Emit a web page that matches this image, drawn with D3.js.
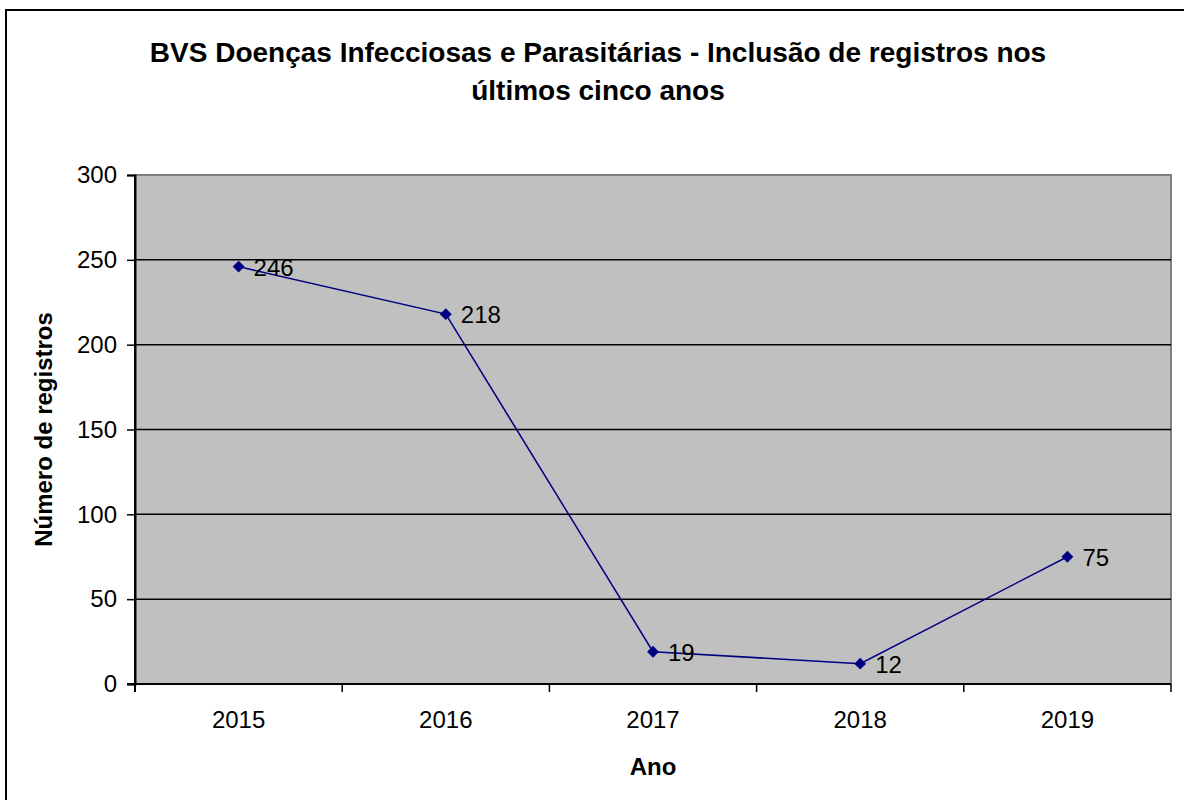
<!DOCTYPE html>
<html lang="en">
<head>
    <meta charset="UTF-8">
    <script src="https://d3js.org/d3.v7.min.js"></script>
    <title>BVS chart</title>
    <style>
        body { margin: 0; background: #fff; }
        svg { display: block; }
    </style>
</head>
<body>
    <svg class="chart"></svg>
    <script>
        // data
        var years = ["2015", "2016", "2017", "2018", "2019"];
        var registros = [246, 218, 19, 12, 75];
        var yTicks = [0, 50, 100, 150, 200, 250, 300];

        var W = 1184, H = 800;
        var pLeft = 135, pRight = 1171, pTop = 175, pBottom = 684;
        var font = "Arial, 'Liberation Sans', sans-serif";

        var svg = d3.select(".chart")
            .attr("width", W)
            .attr("height", H);

        // outer frame (right/bottom edges run off the picture)
        svg.append("rect")
            .attr("x", 6)
            .attr("y", 10)
            .attr("width", W + 10)
            .attr("height", H + 10)
            .attr("fill", "#fff")
            .attr("stroke", "#000")
            .attr("stroke-width", 2);

        var x = d3.scaleBand()
            .domain(years)
            .range([pLeft, pRight]);

        var y = d3.scaleLinear()
            .domain([0, 300])
            .range([pBottom, pTop]);

        // plot area
        svg.append("rect")
            .attr("x", pLeft)
            .attr("y", pTop)
            .attr("width", pRight - pLeft)
            .attr("height", pBottom - pTop)
            .attr("fill", "#c0c0c0")
            .attr("stroke", "#808080")
            .attr("stroke-width", 2);

        // gridlines
        svg.selectAll(".grid")
            .data(yTicks.filter(function(d) { return d > 0 && d < 300; }))
            .enter()
            .append("line")
            .attr("x1", pLeft)
            .attr("x2", pRight)
            .attr("y1", function(d) { return y(d); })
            .attr("y2", function(d) { return y(d); })
            .attr("stroke", "#000")
            .attr("stroke-width", 1.5);

        // y axis
        var yAxis = svg.append("g")
            .attr("transform", "translate(" + pLeft + ",0)")
            .call(d3.axisLeft(y).tickValues(yTicks).tickSize(8).tickPadding(10));
        yAxis.select(".domain").attr("stroke-width", 2);
        yAxis.selectAll(".tick line").attr("stroke-width", 1.5);
        yAxis.selectAll("text")
            .attr("font-family", font)
            .attr("font-size", 24)
            .attr("fill", "#000");

        // x axis: ticks between categories
        var bounds = years.map(function(d) { return x(d); }).concat([pRight]);
        svg.append("line")
            .attr("x1", pLeft - 8)
            .attr("x2", pRight)
            .attr("y1", pBottom)
            .attr("y2", pBottom)
            .attr("stroke", "#000")
            .attr("stroke-width", 2);
        svg.selectAll(".xtick")
            .data(bounds)
            .enter()
            .append("line")
            .attr("x1", function(d) { return d; })
            .attr("x2", function(d) { return d; })
            .attr("y1", pBottom)
            .attr("y2", pBottom + 8)
            .attr("stroke", "#000")
            .attr("stroke-width", 1.5);
        svg.append("line")
            .attr("x1", pLeft)
            .attr("x2", pLeft)
            .attr("y1", pTop)
            .attr("y2", pBottom + 8)
            .attr("stroke", "#000")
            .attr("stroke-width", 2);

        svg.selectAll(".xlabel")
            .data(years)
            .enter()
            .append("text")
            .attr("x", function(d) { return x(d) + x.bandwidth() / 2; })
            .attr("y", 728)
            .attr("text-anchor", "middle")
            .attr("font-family", font)
            .attr("font-size", 24)
            .text(function(d) { return d; });

        // line + markers
        var line = d3.line()
            .x(function(d, i) { return x(years[i]) + x.bandwidth() / 2; })
            .y(function(d) { return y(d); });

        svg.append("path")
            .datum(registros)
            .attr("d", line)
            .attr("fill", "none")
            .attr("stroke", "#000080")
            .attr("stroke-width", 1.5);

        svg.selectAll(".pt")
            .data(registros)
            .enter()
            .append("path")
            .attr("d", d3.symbol().type(d3.symbolDiamond2).size(90))
            .attr("transform", function(d, i) {
                return "translate(" + (x(years[i]) + x.bandwidth() / 2) + "," + y(d) + ")";
            })
            .attr("fill", "#000080");

        svg.selectAll(".val")
            .data(registros)
            .enter()
            .append("text")
            .attr("x", function(d, i) { return x(years[i]) + x.bandwidth() / 2 + 15; })
            .attr("y", function(d) { return y(d) + 9; })
            .attr("font-family", font)
            .attr("font-size", 24)
            .text(function(d) { return d; });

        // titles
        var title = svg.append("text")
            .attr("text-anchor", "middle")
            .attr("font-family", font)
            .attr("font-size", 28)
            .attr("font-weight", "bold");
        title.append("tspan").attr("x", 598).attr("y", 62)
            .text("BVS Doenças Infecciosas e Parasitárias - Inclusão de registros nos");
        title.append("tspan").attr("x", 598).attr("y", 100)
            .text("últimos cinco anos");

        svg.append("text")
            .attr("x", 653)
            .attr("y", 775)
            .attr("text-anchor", "middle")
            .attr("font-family", font)
            .attr("font-size", 24)
            .attr("font-weight", "bold")
            .text("Ano");

        svg.append("text")
            .attr("transform", "translate(52," + ((pTop + pBottom) / 2) + ") rotate(-90)")
            .attr("text-anchor", "middle")
            .attr("font-family", font)
            .attr("font-size", 24)
            .attr("font-weight", "bold")
            .text("Número de registros");
    </script>
</body>
</html>
